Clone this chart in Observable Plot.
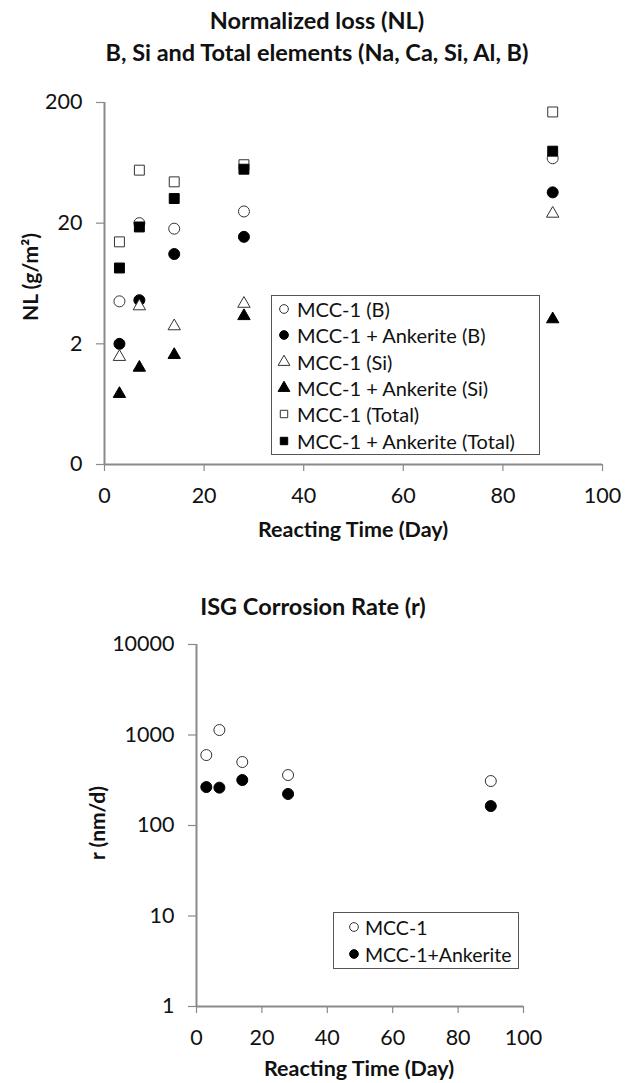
<!DOCTYPE html>
<html>
<head>
<meta charset="utf-8">
<script src="https://cdn.jsdelivr.net/npm/d3@7"></script>
<script src="https://cdn.jsdelivr.net/npm/@observablehq/plot@0.6"></script>
<style>
  html, body { margin: 0; padding: 0; background: #fff; }
  body { font-family: Lato, "Open Sans", sans-serif; color: #111; }
  #wrap { position: relative; width: 634px; height: 1083px; overflow: hidden; }
  .abs { position: absolute; }
  .title { position: absolute; left: 0; width: 634px; text-align: center; font-weight: bold; font-size: 23.5px; line-height: 28px; white-space: nowrap; }
  .ylab { position: absolute; font-weight: bold; font-size: 21px; line-height: 24px; white-space: nowrap; transform: translate(-50%, -50%) rotate(-90deg); }
  .xlab { position: absolute; font-weight: bold; font-size: 21.5px; line-height: 24px; white-space: nowrap; transform: translate(-50%, -50%); }
  .legend { position: absolute; border: 1px solid #555; background: #fff; box-sizing: border-box; }
  .legend .row { position: absolute; left: 0; height: 26px; display: flex; align-items: center; white-space: nowrap; }
  .legend svg { display: block; }
</style>
</head>
<body>
<div id="wrap">
  <div class="title" style="top:6px">Normalized loss (NL)</div>
  <div class="title" style="top:38px">B, Si and Total elements (Na, Ca, Si, Al, B)</div>
  <div id="chart1" class="abs" style="left:0;top:0"></div>
  <div class="ylab" style="left:30px;top:277px">NL (g/m²)</div>
  <div class="xlab" style="left:353px;top:529px">Reacting Time (Day)</div>
  <div id="legend1" class="legend" style="left:271px;top:295px;width:269px;height:160px"></div>

  <div class="title" style="top:592px;left:-4px">ISG Corrosion Rate (r)</div>
  <div id="chart2" class="abs" style="left:0;top:545px"></div>
  <div class="ylab" style="left:97px;top:823px">r (nm/d)</div>
  <div class="xlab" style="left:359px;top:1068px">Reacting Time (Day)</div>
  <div id="legend2" class="legend" style="left:333px;top:912px;width:186px;height:57px"></div>
</div>
<script>
// ---- Data ----
const days = [3, 7, 14, 28, 90];

// Normalized loss NL (g/m²)
const nlB        = [4.5, 20, 18, 25, 69];
const nlAnkB     = [2.0, 4.6, 11.1, 15.4, 36];
const nlSi       = [1.56, 4.1, 2.8, 4.3, 24];
const nlAnkSi    = [0.77, 1.27, 1.62, 3.4, 3.2];
const nlTotal    = [14, 55, 44, 61, 167];
const nlAnkTotal = [8.5, 18.6, 32, 56, 79];

// Corrosion rate r (nm/d)
const rMCC = [600, 1135, 503, 361, 310];
const rAnk = [266, 262, 318, 223, 164];

const seriesNames1 = ["MCC-1 (B)", "MCC-1 + Ankerite (B)", "MCC-1 (Si)", "MCC-1 + Ankerite (Si)", "MCC-1 (Total)", "MCC-1 + Ankerite (Total)"];
const seriesNames2 = ["MCC-1", "MCC-1+Ankerite"];

const xTicks = [0, 20, 40, 60, 80, 100];
const yTicks1 = [0.2, 2, 20, 200];
const yTicks2 = [1, 10, 100, 1000, 10000];

// ---- Build tables ----
const nlSeries = [nlB, nlAnkB, nlSi, nlAnkSi, nlTotal, nlAnkTotal];
const symbols1 = ["circle", "circle", "triangle", "triangle", "square", "square"];
const filled1 = [false, true, false, true, false, true];
const radius1 = [5.5, 5.5, 4.6, 4.6, 5.6, 5.6];

const table1 = nlSeries.map((vals, i) => days.map((d, j) => ({series: seriesNames1[i], day: d, value: vals[j]})));
const table2 = [rMCC, rAnk].map((vals, i) => days.map((d, j) => ({series: seriesNames2[i], day: d, value: vals[j]})));

const AX = "#8a8a8a";
const style = {fontFamily: "Lato, 'Open Sans', sans-serif", fontSize: "21.5px", color: "#111", background: "transparent", overflow: "visible"};

function dotMark(data, symbol, filled, r) {
  return Plot.dot(data, {
    x: "day", y: "value", symbol: () => symbol, r,
    fill: filled ? "#000" : "#fff",
    stroke: filled ? "#000" : "#333",
    strokeWidth: 1
  });
}

// ---- Chart 1 ----
const chart1 = Plot.plot({
  width: 634, height: 545,
  marginTop: 102, marginBottom: 81, marginLeft: 104, marginRight: 32,
  style,
  x: {domain: [0, 100]},
  y: {type: "log", domain: [0.2, 200]},
  symbol: {type: "identity"},
  marks: [
    Plot.axisX({ticks: xTicks, tickSize: 7, tickPadding: 16, stroke: AX, strokeWidth: 1.2, fill: "#111", label: null}),
    Plot.axisY({ticks: yTicks1, tickFormat: d => d < 1 ? "0" : String(d), tickSize: 8, tickPadding: 14, stroke: AX, strokeWidth: 1.2, fill: "#111", label: null}),
    Plot.ruleX([0], {stroke: AX, strokeWidth: 2}),
    Plot.ruleY([0.2], {stroke: AX, strokeWidth: 2}),
    ...table1.map((data, i) => dotMark(data, symbols1[i], filled1[i], radius1[i]))
  ]
});
document.getElementById("chart1").appendChild(chart1);

// ---- Chart 2 ----
const chart2 = Plot.plot({
  width: 634, height: 538,
  marginTop: 99, marginBottom: 77, marginLeft: 196, marginRight: 111,
  style,
  x: {domain: [0, 100]},
  y: {type: "log", domain: [1, 10000]},
  symbol: {type: "identity"},
  marks: [
    Plot.axisX({ticks: xTicks, tickSize: 7, tickPadding: 16, stroke: AX, strokeWidth: 1.2, fill: "#111", label: null}),
    Plot.axisY({ticks: yTicks2, tickFormat: d => String(d), tickSize: 8, tickPadding: 14, stroke: AX, strokeWidth: 1.2, fill: "#111", label: null}),
    Plot.ruleX([0], {stroke: AX, strokeWidth: 2}),
    Plot.ruleY([1], {stroke: AX, strokeWidth: 2}),
    dotMark(table2[0], "circle", false, 5.5),
    dotMark(table2[1], "circle", true, 5.5)
  ]
});
document.getElementById("chart2").appendChild(chart2);

// ---- Legends ----
function glyph(symbol, filled, size) {
  const s = 16;
  const p = d3.symbol(symbol === "circle" ? d3.symbolCircle : symbol === "triangle" ? d3.symbolTriangle : d3.symbolSquare, size)();
  return `<svg width="${s}" height="${s}" viewBox="${-s/2} ${-s/2} ${s} ${s}"><path d="${p}" fill="${filled ? "#000" : "#fff"}" stroke="${filled ? "#000" : "#333"}" stroke-width="1"/></svg>`;
}
const leg1 = document.getElementById("legend1");
const legSizes1 = [60, 60, 60, 60, 55, 55];
seriesNames1.forEach((name, i) => {
  const row = document.createElement("div");
  row.className = "row";
  row.style.top = (i * 26.3) + "px";
  row.style.left = "4px";
  row.style.fontSize = "20px";
  row.innerHTML = glyph(symbols1[i], filled1[i], legSizes1[i]) + `<span style="margin-left:5px">${name}</span>`;
  leg1.appendChild(row);
});
const leg2 = document.getElementById("legend2");
seriesNames2.forEach((name, i) => {
  const row = document.createElement("div");
  row.className = "row";
  row.style.top = (1 + i * 27) + "px";
  row.style.left = "12px";
  row.style.fontSize = "19.5px";
  row.innerHTML = glyph("circle", i === 1, 60) + `<span style="margin-left:3px">${name}</span>`;
  leg2.appendChild(row);
});
</script>
</body>
</html>
